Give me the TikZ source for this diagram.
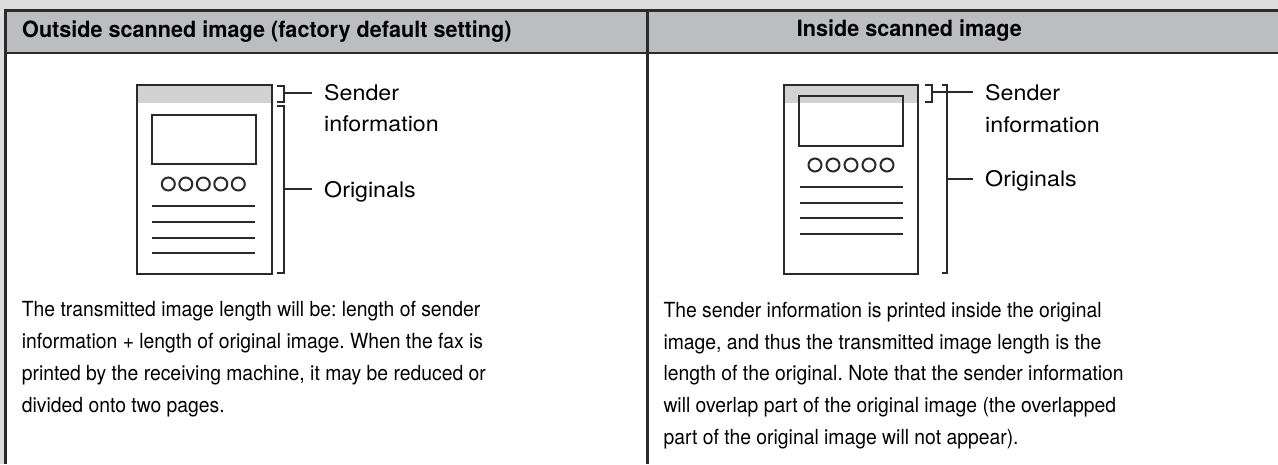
\documentclass[tikz,border=0pt]{standalone}
\usepackage{fontspec}
\setmainfont{TeX Gyre Heros}
\newfontfamily\headfont[FakeStretch=0.965]{TeX Gyre Heros}
\newfontfamily\bodyfont[FakeStretch=0.93]{TeX Gyre Heros}
\newfontfamily\lblfont[FakeStretch=1.08]{TeX Gyre Heros}
\frenchspacing

\definecolor{pagegray}{HTML}{DCDCDC}
\definecolor{headgray}{HTML}{BCBDC1}
\definecolor{bandgray}{HTML}{D1D2D4}
\definecolor{ruleblack}{HTML}{2A2A2A}

\begin{document}
\begin{tikzpicture}[x=1pt, y=-1pt,
  tabline/.style={draw=ruleblack, line width=2.4pt},
  fig/.style={draw=ruleblack, line width=2pt},
  headtxt/.style={anchor=base west, inner sep=0pt, font=\fontsize{22.4}{26}\headfont\bfseries},
  bodytxt/.style={anchor=north west, inner sep=0pt, align=left, font=\fontsize{20.8}{31.7}\bodyfont},
  lbl/.style={anchor=west, inner xsep=12pt, inner ysep=0pt, text height=15.5pt, text depth=0pt, font=\fontsize{21.5}{26}\lblfont},
  lbltwo/.style={anchor=base west, inner sep=0pt, font=\fontsize{21.5}{26}\lblfont}]
\useasboundingbox (0,0) rectangle (1278,464);

% Page margin and table
\fill[pagegray] (0,0) rectangle (1278,10.5);
\fill[pagegray] (0,0) rectangle (4.3,464);
\fill[headgray] (5.5,10.5) rectangle (1278,52.8);
\draw[tabline] (1278,10.5) -- (5.5,10.5) -- (5.5,464);
\draw[tabline] (5.5,52.8) -- (1278,52.8);
\draw[tabline] (647.3,10.5) -- (647.3,464);

% Column headings
\node[headtxt] (hdL) at (22,37.3) {Outside scanned image (factory default setting)};
\node[headtxt] (hdR) at (796.7,36.7) {Inside scanned image};

% Left sheet: sender information outside
\fill[bandgray] (136.7,85) rectangle (271.7,103.3);
\draw[fig] (136.7,85) rectangle (271.7,274);
\draw[fig] (152,115) rectangle (256,164);
\foreach \i in {0,...,4} {
  \draw[fig] (168.3+\i*17.5,184) circle (6.5);
}
\foreach \y in {205.7,221.7,237.7,253.3} {
  \draw[fig] (152,\y) -- (255,\y);
}
\draw[fig] (277,86) -| (284,101.7) -- (277,101.7);
\draw[fig] (277,105.7) -| (284,273.3) -- (277,273.3);
\coordinate (sbL) at (284,92.7);
\coordinate (obL) at (284,189.3);

\node[lbl] (sndL) at (312,92.7) {Sender};
\node[lbltwo] (infL) at (324,131.7) {information};
\node[lbl] (orgL) at (312,189.3) {Originals};
\draw[fig] (sbL) -- (sndL);
\draw[fig] (obL) -- (orgL);

% Right sheet: sender information inside
\fill[bandgray] (784,85) rectangle (918,103);
\draw[fig] (784,85) rectangle (918,274);
\draw[fig] (799.3,95.7) rectangle (903.3,145.7);
\foreach \i in {0,...,4} {
  \draw[fig] (815+\i*18,165) circle (6.5);
}
\foreach \y in {186.7,202.7,218.3,234} {
  \draw[fig] (800,\y) -- (902.7,\y);
}
\draw[fig] (925,85) -| (931.7,102.3) -- (925,102.3);
\draw[fig] (941.7,85) -| (947.3,273.3) -- (941.7,273.3);
\coordinate (sbR) at (931.7,92.3);
\coordinate (obR) at (947.3,179);

\node[lbl] (sndR) at (973,92.3) {Sender};
\node[lbltwo] (infR) at (985,132) {information};
\node[lbl] (orgR) at (973,179) {Originals};
\draw[fig] (sbR) -- (sndR);
\draw[fig] (obR) -- (orgR);

% Notes
\node[bodytxt] (txtL) at (21.7,301.5) {The transmitted image length will be: length of sender\\information + length of original image. When the fax is\\printed by the receiving machine, it may be reduced or\\divided onto two pages.};
\node[bodytxt] (txtR) at (663.3,302) {The sender information is printed inside the original\\image, and thus the transmitted image length is the\\length of the original. Note that the sender information\\will overlap part of the original image (the overlapped\\part of the original image will not appear).};
\end{tikzpicture}
\end{document}
